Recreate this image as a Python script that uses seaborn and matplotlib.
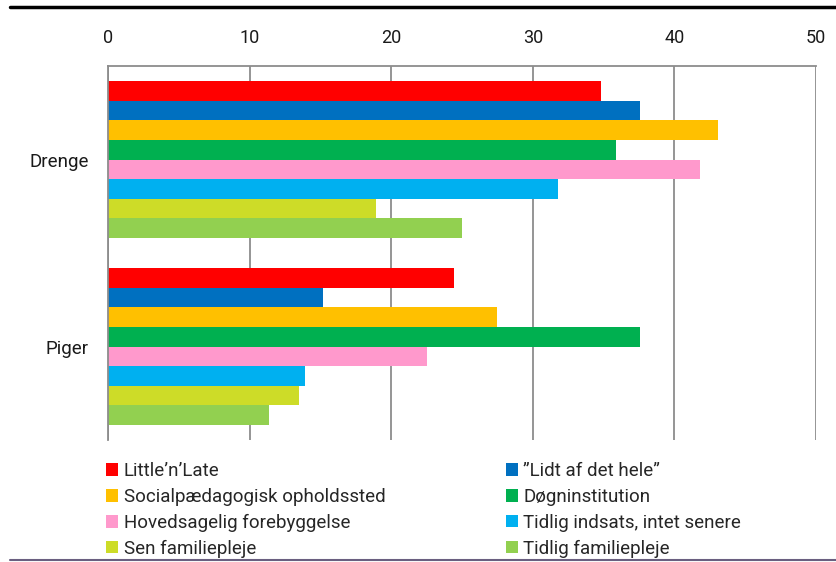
import pandas as pd
import matplotlib
matplotlib.use("Agg")
import matplotlib.pyplot as plt
import seaborn as sns
from matplotlib.patches import Patch
from matplotlib.lines import Line2D

# Data
groups = ["Drenge", "Piger"]
series = [
    "Little\u2019n\u2019Late",
    "\u201dLidt af det hele\u201d",
    "Socialp\u00e6dagogisk opholdssted",
    "D\u00f8gninstitution",
    "Hovedsagelig forebyggelse",
    "Tidlig indsats, intet senere",
    "Sen familiepleje",
    "Tidlig familiepleje",
]
drenge = [34.8, 37.6, 43.1, 35.9, 41.8, 31.8, 18.9, 25.0]
piger = [24.4, 15.2, 27.5, 37.6, 22.5, 13.9, 13.5, 11.4]
colors = ["#FF0000", "#0070C0", "#FFC000", "#00B050",
          "#FF99CC", "#00B0F0", "#CDDC28", "#92D050"]

rows = []
for s, d, p in zip(series, drenge, piger):
    rows.append({"gruppe": "Drenge", "serie": s, "andel": d})
    rows.append({"gruppe": "Piger", "serie": s, "andel": p})
df = pd.DataFrame(rows)

sns.set_style("white")
plt.rcParams["font.family"] = ["Roboto", "DejaVu Sans"]

fig = plt.figure(figsize=(8.37, 5.62), dpi=100)
ax = fig.add_axes([108 / 837, 1 - 440 / 562, (816 - 108) / 837, (440 - 66) / 562])

sns.barplot(data=df, x="andel", y="gruppe", hue="serie", order=groups,
            hue_order=series, palette=colors, orient="h", width=0.84,
            gap=0, linewidth=0, saturation=1, errorbar=None, ax=ax)

ax.set_xlim(0, 50)
ax.set_ylim(1.5, -0.5)
ax.set_xticks(range(0, 51, 10))
ax.xaxis.tick_top()
ax.set_xlabel("")
ax.set_ylabel("")
ax.grid(axis="x", color="#8c8c8c", linewidth=1.3)
ax.grid(axis="y", visible=False)
ax.set_axisbelow(True)
for side in ["right", "bottom"]:
    ax.spines[side].set_visible(False)
for side in ["top", "left"]:
    ax.spines[side].set_color("#8c8c8c")
    ax.spines[side].set_linewidth(1.3)
ax.tick_params(axis="x", length=0, pad=14, labelsize=13, labelcolor="#1a1a1a")
ax.tick_params(axis="y", length=0, pad=14, labelsize=13.5, labelcolor="#1a1a1a")

# Legend: row-wise order in two columns
if ax.get_legend() is not None:
    ax.get_legend().remove()
handles = [Patch(facecolor=c, edgecolor="none") for c in colors]
order = [0, 2, 4, 6, 1, 3, 5, 7]
fig.legend([handles[i] for i in order], [series[i] for i in order],
           ncol=2, loc="upper left", bbox_to_anchor=(106 / 837, 1 - 462 / 562),
           frameon=False, fontsize=13.5, handlelength=0.65, handleheight=0.65,
           handletextpad=0.3, columnspacing=6.4, labelspacing=0.42,
           borderaxespad=0, borderpad=0)

# Rules at top and bottom
fig.add_artist(Line2D([10 / 837, 1], [1 - 7 / 562] * 2, color="black", linewidth=2.5))
fig.add_artist(Line2D([10 / 837, 1], [1 - 560 / 562] * 2, color="#6a5f80", linewidth=1.5))

fig.savefig("out.png", dpi=100)
